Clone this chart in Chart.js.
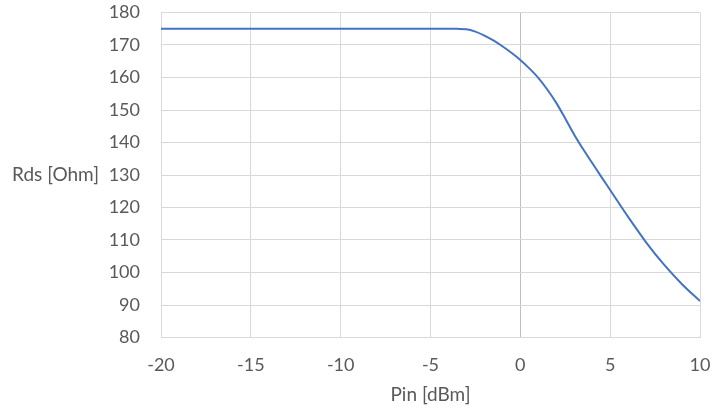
<!DOCTYPE html>
<html>
<head>
<meta charset="utf-8">
<script src="https://cdn.jsdelivr.net/npm/chart.js@4.4.1/dist/chart.umd.min.js"></script>
<style>
  html, body { margin: 0; padding: 0; background: #ffffff; }
  #wrap { position: relative; width: 712px; height: 412px; }
</style>
</head>
<body>
<div id="wrap"><canvas id="chart" width="712" height="412"></canvas></div>
<script>
// Input power sweep (dBm) and measured drain-source resistance (Ohm)
const pinDbm = [-20, -18, -16, -14, -12, -10, -8, -6, -4, -3.5, -3, -2.5, -2, -1.5, -1, -0.5, 0, 0.5, 1, 1.5, 2, 2.5, 3, 3.5, 4, 4.5, 5, 6, 7, 8, 9, 10];
const rdsOhm = [175, 175, 175, 175, 175, 175, 175, 175, 175, 174.97, 174.85, 174.1, 172.9, 171.4, 169.6, 167.6, 165.4, 162.8, 159.9, 156.3, 152.2, 147.4, 142.4, 137.9, 133.7, 129.5, 125.4, 117.1, 109.3, 102.4, 96.4, 91.2];

const xTicks = [-20, -15, -10, -5, 0, 5, 10];
const yTicks = [80, 90, 100, 110, 120, 130, 140, 150, 160, 170, 180];

const xTitle = 'Pin [dBm]';
const yTitle = 'Rds [Ohm]';

const FONT = 'Lato, "Open Sans", sans-serif';
const TEXT = '#595959';
const GRID = '#d9d9d9';
const AXIS = '#bfbfbf';

// Horizontal y-axis title to the left of the tick labels
const sideTitle = {
  id: 'sideTitle',
  afterDraw(chart) {
    const { ctx, chartArea } = chart;
    ctx.save();
    ctx.font = '19px ' + FONT;
    ctx.fillStyle = TEXT;
    ctx.textAlign = 'left';
    ctx.textBaseline = 'middle';
    ctx.fillText(yTitle, 12, (chartArea.top + chartArea.bottom) / 2);
    ctx.restore();
  }
};

new Chart(document.getElementById('chart'), {
  type: 'line',
  data: {
    datasets: [{
      data: pinDbm.map((x, i) => ({ x, y: rdsOhm[i] })),
      borderColor: '#4472C4',
      borderWidth: 2,
      pointRadius: 0,
      fill: false,
      cubicInterpolationMode: 'monotone'
    }]
  },
  options: {
    responsive: false,
    animation: false,
    layout: { padding: { left: 0, right: 12, top: 12.5, bottom: 6 } },
    plugins: { legend: { display: false }, tooltip: { enabled: false } },
    scales: {
      x: {
        type: 'linear',
        min: -20, max: 10,
        afterBuildTicks(scale) { scale.ticks = xTicks.map(v => ({ value: v })); },
        afterFit(scale) {
          scale.height = 68.5;
          scale.paddingLeft = 0;
          scale.paddingRight = 0;
        },
        grid: {
          color: ctx => (ctx.tick && ctx.tick.value === 0) ? AXIS : GRID,
          lineWidth: 1,
          drawTicks: false
        },
        border: { display: false },
        ticks: { color: TEXT, font: { family: FONT, size: 18 }, padding: 17 },
        title: { display: true, text: xTitle, color: TEXT, font: { family: FONT, size: 19 }, padding: 0 }
      },
      y: {
        min: 80, max: 180,
        afterBuildTicks(scale) { scale.ticks = yTicks.map(v => ({ value: v })); },
        afterFit(scale) {
          scale.width = 161;
          scale.paddingTop = 0;
          scale.paddingBottom = 0;
        },
        grid: { color: GRID, lineWidth: 1, drawTicks: false },
        border: { display: false },
        ticks: { color: TEXT, font: { family: FONT, size: 18 }, padding: 21 }
      }
    }
  },
  plugins: [sideTitle]
});
</script>
</body>
</html>
